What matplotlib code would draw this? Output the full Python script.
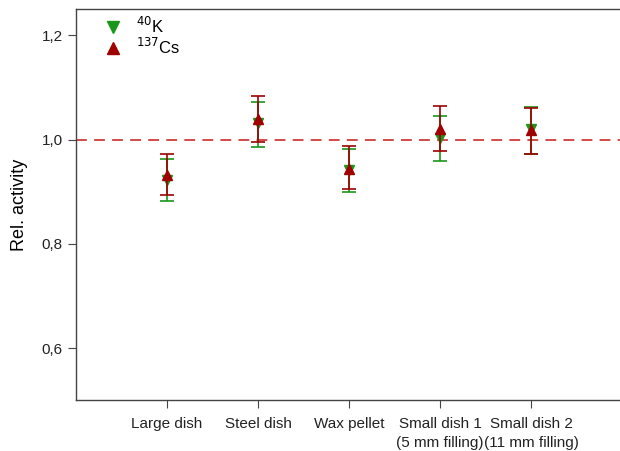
import matplotlib.pyplot as plt
from matplotlib.lines import Line2D
import numpy as np

plt.rcParams['font.family'] = ['Liberation Sans', 'DejaVu Sans']

# Sample geometries
samples = ['Large dish', 'Steel dish', 'Wax pellet',
           'Small dish 1\n(5 mm filling)', 'Small dish 2\n(11 mm filling)']

# Relative activity of 40K with lower/upper error bar ends
k_val = [0.922, 1.031, 0.941, 1.003, 1.021]
k_low = [0.882, 0.985, 0.900, 0.959, 0.973]
k_high = [0.962, 1.072, 0.982, 1.045, 1.063]

# Relative activity of 137Cs with lower/upper error bar ends
cs_val = [0.932, 1.039, 0.944, 1.021, 1.019]
cs_low = [0.893, 0.995, 0.905, 0.978, 0.973]
cs_high = [0.973, 1.084, 0.987, 1.065, 1.060]

k_col = '#1a961a'
cs_col = '#a00000'

fig = plt.figure(figsize=(6.2, 4.51), dpi=100)
ax = fig.add_axes([0.1226, 0.112, 0.8806, 0.868])

x = np.arange(1, len(samples) + 1)
k_val = np.array(k_val)
cs_val = np.array(cs_val)

ax.axhline(1.0, color='#d03c3c', linestyle=(0, (6, 4)), linewidth=1.3, zorder=1)

ax.errorbar(x, k_val, yerr=[k_val - np.array(k_low), np.array(k_high) - k_val],
            fmt='v', color=k_col, ecolor=k_col, markersize=7, capsize=5,
            elinewidth=1.2, capthick=1.2, zorder=2)
ax.errorbar(x, cs_val, yerr=[cs_val - np.array(cs_low), np.array(cs_high) - cs_val],
            fmt='^', color=cs_col, ecolor=cs_col, markersize=7, capsize=5,
            elinewidth=1.2, capthick=1.2, zorder=3)

ax.set_xlim(0, 6)
ax.set_ylim(0.5, 1.25)
ax.set_xticks(x)
ax.set_xticklabels(samples, fontsize=11, linespacing=1.45)
ax.set_yticks([0.6, 0.8, 1.0, 1.2])
ax.set_yticklabels(['0,6', '0,8', '1,0', '1,2'], fontsize=11)
ax.set_ylabel('Rel. activity', fontsize=13, labelpad=10)
ax.tick_params(direction='out', length=6, color='#444444', labelcolor='#222222')
ax.tick_params(axis='x', pad=6)
for s in ax.spines.values():
    s.set_color('#444444')
    s.set_linewidth(1.0)

handles = [Line2D([], [], marker='v', color=k_col, linestyle='none', markersize=8),
           Line2D([], [], marker='^', color=cs_col, linestyle='none', markersize=8)]
ax.legend(handles, [r'$^{40}$K', r'$^{137}$Cs'], loc='upper left',
          bbox_to_anchor=(0.025, 1.0), frameon=False, fontsize=12,
          handletextpad=0.4, borderaxespad=0.0, labelspacing=0.05)

fig.savefig('out.png', dpi=100)
